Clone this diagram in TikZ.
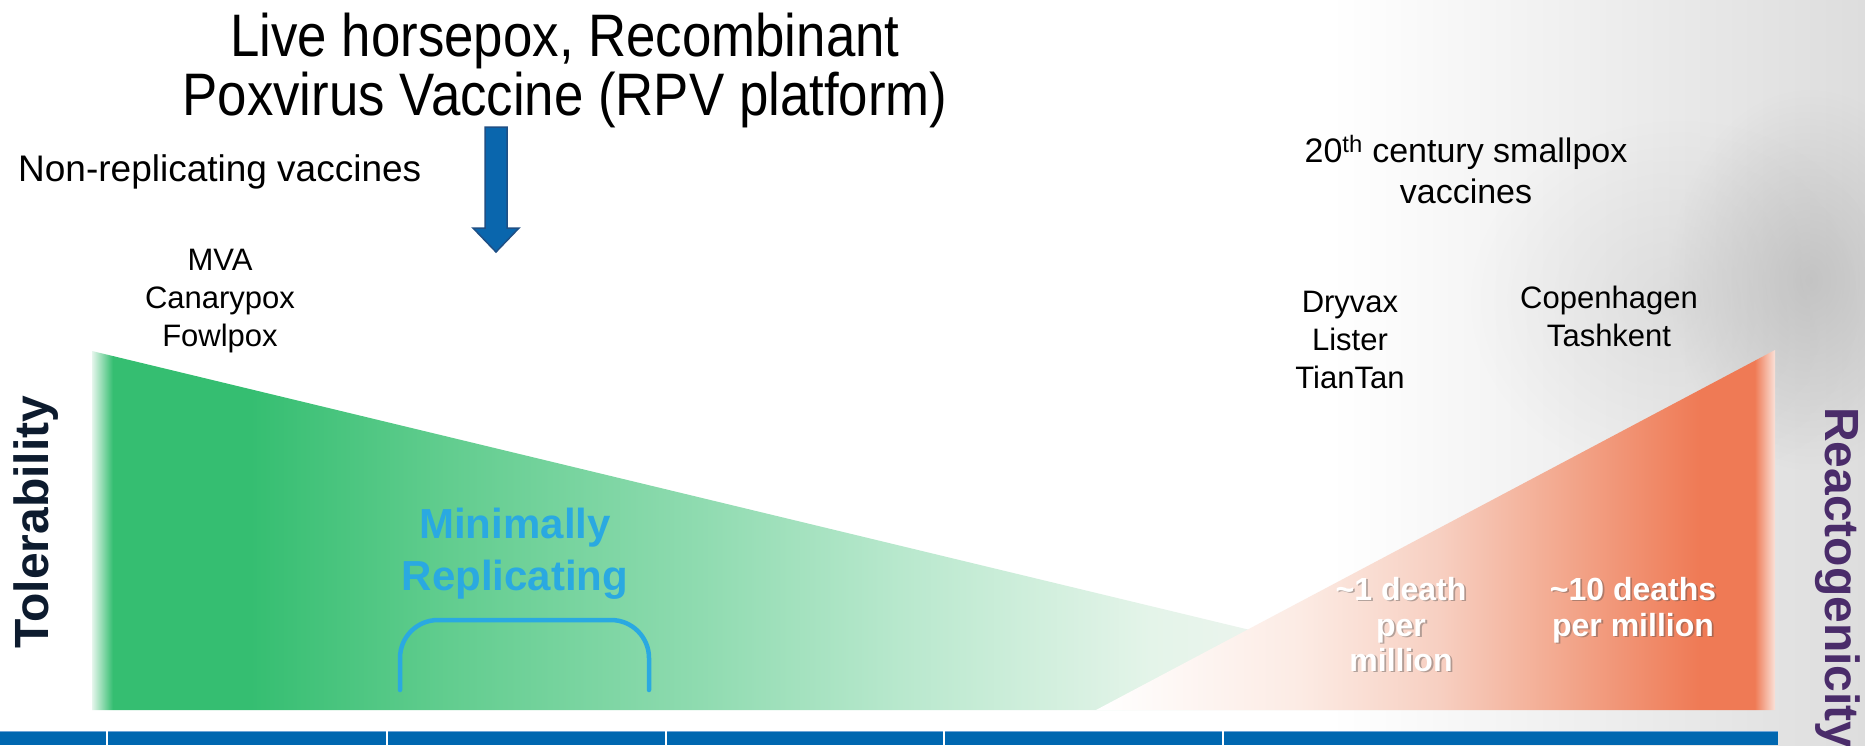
\documentclass[tikz,border=0pt]{standalone}
\usepackage{fontspec}
\usetikzlibrary{fadings}
\setmainfont{Liberation Sans}
\newfontfamily\narrowfont[FakeStretch=0.88]{Liberation Sans}
\definecolor{gW}{HTML}{E6F6EC}
\definecolor{greenA}{HTML}{35BE71}
\definecolor{gB}{HTML}{62CD8F}
\definecolor{gC}{HTML}{8FDBB0}
\definecolor{gD}{HTML}{B8E8CD}
\definecolor{gE}{HTML}{E4F4E9}
\definecolor{gF}{HTML}{EEF4EF}
\definecolor{gG}{HTML}{F6F7F6}
\definecolor{oW}{HTML}{FFFFFF}
\definecolor{oB}{HTML}{FCEBE4}
\definecolor{oC}{HTML}{F7CFC1}
\definecolor{oD}{HTML}{F3AC93}
\definecolor{orangeA}{HTML}{EF7A55}
\definecolor{oE}{HTML}{FAE2D9}
\definecolor{minblue}{HTML}{2AA9E1}
\definecolor{barblue}{HTML}{0067B0}
\definecolor{barline}{HTML}{6FA5D8}
\definecolor{arrowblue}{HTML}{0A66AD}
\definecolor{arrowedge}{HTML}{1F4F85}
\definecolor{tolnavy}{HTML}{0D1B2E}
\definecolor{reactpurple}{HTML}{4A2C6A}
\definecolor{photoR}{HTML}{DDDDDD}
\definecolor{photoD}{HTML}{B4B4B4}
\tikzfading[name=softblob, inner color=transparent!0, outer color=transparent!100]
\pgfdeclarehorizontalshading{greenfade}{100bp}{color(0bp)=(gW); color(25bp)=(gW); color(25.7bp)=(greenA); color(30.3bp)=(greenA); color(37bp)=(gB); color(45.4bp)=(gC); color(52.1bp)=(gD); color(60.5bp)=(gE); color(65.5bp)=(gF); color(75bp)=(gG); color(100bp)=(gG)}
\pgfdeclarehorizontalshading{orangefade}{100bp}{color(0bp)=(oW); color(25bp)=(oW); color(40bp)=(oB); color(50.3bp)=(oC); color(58.4bp)=(oD); color(69.5bp)=(orangeA); color(73.5bp)=(orangeA); color(75bp)=(oE); color(100bp)=(oE)}
\tikzset{
  lbl/.style={inner sep=0pt, anchor=base, text=black},
  plain/.style={lbl, font=\fontsize{31}{31}\selectfont},
  deathtxt/.style={lbl, text=white, font=\bfseries\fontsize{32}{32}\selectfont},
  deathshadow/.style={lbl, text=black!70, opacity=0.4, font=\bfseries\fontsize{32}{32}\selectfont},
  minitxt/.style={lbl, text=minblue, font=\bfseries\fontsize{42}{42}\selectfont},
  titletxt/.style={lbl, font=\narrowfont\fontsize{60}{60}\selectfont},
  axistxt/.style={inner sep=0pt, font=\bfseries\fontsize{48}{48}\selectfont},
  divider/.style={white, line width=2pt},
}
\begin{document}
\begin{tikzpicture}[x=1pt,y=-1pt]
\clip (0,0) rectangle (1865,745);
\fill[white] (0,0) rectangle (1865,745);
% faint photo background on the right
\shade[left color=white, right color=photoR] (1330,0) rectangle (1865,745);
\fill[photoD, path fading=softblob, fill opacity=0.6] (1810,280) ellipse [x radius=140, y radius=190];
\fill[photoD, path fading=softblob, fill opacity=0.25] (1680,300) ellipse [x radius=210, y radius=180];
% triangles
\path[shading=greenfade] (92,351) -- (1582,710) -- (92,710) -- cycle;
\path[shading=orangefade] (1775,350) -- (1775,710) -- (1096,710) -- cycle;
% bottom bar
\fill[barblue] (0,731) rectangle (1778,745);
\draw[barline, line width=1.5pt] (0,731.5) -- (1778,731.5);
\foreach \xx in {107,387,666,944,1223} \draw[divider] (\xx,731) -- (\xx,745);
% arrow
\filldraw[fill=arrowblue, draw=arrowedge, line width=1.5pt, line join=miter]
  (485,127) -- (507,127) -- (507,228) -- (519,228) -- (496,252) -- (473,228) -- (485,228) -- cycle;
% bracket
\draw[minblue, line width=4.5pt, line cap=round, rounded corners=38pt] (400,690) -- (400,620) -- (649,620) -- (649,690);
% title
\node[titletxt] (t1) at (565,56) {Live horsepox, Recombinant};
\node[titletxt] (t2) at (565,115) {Poxvirus Vaccine (RPV platform)};
% left labels
\node[lbl, anchor=base west, font=\fontsize{37}{37}\selectfont] (nonrep) at (18,181) {Non-replicating vaccines};
\node[plain] (mva) at (220,270) {MVA};
\node[plain] (canary) at (220,308) {Canarypox};
\node[plain] (fowl) at (220,346) {Fowlpox};
% right labels
\node[lbl, font=\fontsize{34}{34}\selectfont] (c20a) at (1466,162) {20\textsuperscript{th} century smallpox};
\node[lbl, font=\fontsize{34}{34}\selectfont] (c20b) at (1466,203) {vaccines};
\node[plain] (dry) at (1350,312) {Dryvax};
\node[plain] (lis) at (1350,350) {Lister};
\node[plain] (tian) at (1350,388) {TianTan};
\node[plain] (cop) at (1609,308) {Copenhagen};
\node[plain] (tash) at (1609,346) {Tashkent};
% minimally replicating
\node[minitxt] (min1) at (515,538) {Minimally};
\node[minitxt] (min2) at (515,590) {Replicating};
% deaths
\foreach \tx/\xx/\yy/\nm in {\textasciitilde1 death/1401/600/da, per/1401/636/db, million/1401/671/dc, \textasciitilde10 deaths/1633/600/dd, per million/1633/636/de}{
  \node[deathshadow] at (\xx+1.8,\yy+1.8) {\tx};
  \node[deathtxt] (\nm) at (\xx,\yy) {\tx};
}
% axis labels
\node[axistxt, text=tolnavy, rotate=90] (tol) at (36,522) {Tolerability};
\node[axistxt, text=reactpurple, rotate=-90, anchor=west] (react) at (1838,407) {Reactogenicity};
\end{tikzpicture}
\end{document}
